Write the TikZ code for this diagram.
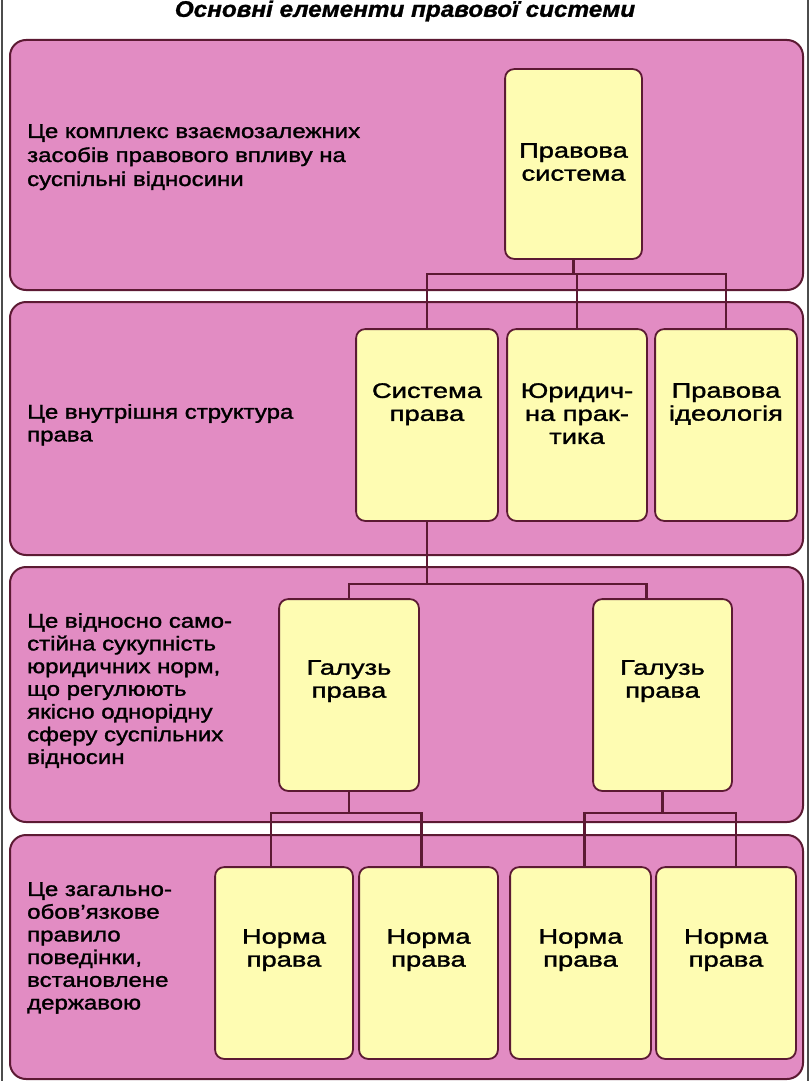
\documentclass[tikz,border=0pt]{standalone}
\usepackage{fontspec}
\setmainfont{Liberation Sans}
\newfontfamily\descfont[FakeStretch=1.2,FakeBold=1.5]{Liberation Sans}
\newfontfamily\boxfont[FakeStretch=1.3,FakeBold=1.5]{Liberation Sans}
\newfontfamily\titlefont[FakeStretch=1.08,FakeBold=1.2]{Liberation Sans Bold Italic}
\usetikzlibrary{calc}
\definecolor{bandpink}{HTML}{E28CC3}
\definecolor{boxyellow}{HTML}{FEFCB2}
\definecolor{edgecol}{HTML}{5C1A33}
\begin{document}
\begin{tikzpicture}[x=1pt,y=-1pt,
  band/.style={draw=edgecol, fill=bandpink, line width=2pt, rounded corners=16pt, inner sep=0pt, minimum width=793pt},
  box/.style={draw=edgecol, fill=boxyellow, line width=1.8pt, rounded corners=9pt, inner sep=0pt, minimum height=189pt},
  conn/.style={draw=edgecol, line width=2.2pt},
  boxtext/.style={anchor=north, inner sep=0pt, align=center, font=\boxfont\fontsize{21}{23}\selectfont},
  desc/.style={anchor=north west, inner sep=0pt, align=left, font=\descfont\fontsize{20}{22.7}\selectfont},
  frameline/.style={draw=black!70, line width=1.5pt}
]
\useasboundingbox (0,0) rectangle (810,1081);
\fill[white] (0,0) rectangle (810,1081);
\coordinate (fl1) at (2,0); \coordinate (fl2) at (2,1081);
\coordinate (fr1) at (808,0); \coordinate (fr2) at (808,1081);
\draw[frameline] (fl1) -- (fl2);
\draw[frameline] (fr1) -- (fr2);

% title
\node[font=\titlefont\fontsize{22.5}{24}\selectfont, inner sep=0pt] (title) at (405,11) {Основні елементи правової системи};

% bands
\node[band, minimum height=250pt] (b1) at (406.5,165) {};
\node[band, minimum height=253pt] (b2) at (406.5,428.5) {};
\node[band, minimum height=255pt] (b3) at (406.5,694.5) {};
\node[band, minimum height=244pt] (b4) at (406.5,957) {};

% descriptions
\node[desc, font=\descfont\fontsize{20}{24}\selectfont] (d1) at (27,124) {Це комплекс взаємозалежних\\засобів правового впливу на\\суспільні відносини};
\node[desc] (d2) at (27,404) {Це внутрішня структура\\права};
\node[desc] (d3) at (27,613) {Це відносно само-\\стійна сукупність\\юридичних норм,\\що регулюють\\якісно однорідну\\сферу суспільних\\відносин};
\node[desc] (d4) at (27,882) {Це загально-\\обов’язкове\\правило\\поведінки,\\встановлене\\державою};

% box geometry (nodes)
\node[box, minimum width=135pt, minimum height=188pt] (ps) at (573.5,164) {};
\node[box, minimum width=140pt, minimum height=190pt] (sp) at (427,425) {};
\node[box, minimum width=138pt, minimum height=190pt] (yp) at (577,425) {};
\node[box, minimum width=140pt, minimum height=190pt] (pi) at (726,425) {};
\node[box, minimum width=138pt, minimum height=190pt] (g1) at (349,695) {};
\node[box, minimum width=137pt, minimum height=190pt] (g2) at (662.5,695) {};
\node[box, minimum width=136pt, minimum height=190pt] (n1) at (284,963) {};
\node[box, minimum width=137pt, minimum height=190pt] (n2) at (428.5,963) {};
\node[box, minimum width=139pt, minimum height=190pt] (n3) at (580.5,963) {};
\node[box, minimum width=138pt, minimum height=190pt] (n4) at (726,963) {};

% connectors
\coordinate (j1) at ($(ps.south)+(0,15)$);
\draw[conn] (ps.south) -- (j1);
\draw[conn] (sp.north) |- (j1) -| (pi.north);
\draw[conn] (yp.north) -- (yp.north |- j1);

\coordinate (j2) at ($(sp.south)+(0,63)$);
\coordinate (g2in) at ($(g2.north)+(-16,0)$);
\draw[conn] (sp.south) -- (j2);
\draw[conn] (g1.north) |- (j2) -| (g2in);

\coordinate (j3) at ($(g1.south)+(0,22)$);
\coordinate (n1in) at ($(n1.north)+(-13,0)$);
\coordinate (n2in) at ($(n2.north)+(-7,0)$);
\draw[conn] (g1.south) -- (j3);
\draw[conn] (n1in) |- (j3) -| (n2in);

\coordinate (j4) at ($(g2.south)+(0,22)$);
\coordinate (n3in) at ($(n3.north)+(4,0)$);
\coordinate (n4in) at ($(n4.north)+(10,0)$);
\draw[conn] (g2.south) -- (j4);
\draw[conn] (n3in) |- (j4) -| (n4in);

% redraw boxes on top of connector ends
\foreach \b in {ps,sp,yp,pi,g1,g2,n1,n2,n3,n4}{
  \draw[draw=edgecol, fill=boxyellow, line width=1.8pt, rounded corners=9pt] (\b.south west) rectangle (\b.north east);
}

% box texts
\node[boxtext] (tps) at (ps.center |- 0,143) {Правова\\система};
\node[boxtext] (tsp) at (sp.center |- 0,383) {Система\\права};
\node[boxtext] (typ) at (yp.center |- 0,383) {Юридич-\\на прак-\\тика};
\node[boxtext] (tpi) at (pi.center |- 0,383) {Правова\\ідеологія};
\node[boxtext] (tg1) at (g1.center |- 0,660) {Галузь\\права};
\node[boxtext] (tg2) at (g2.center |- 0,660) {Галузь\\права};
\node[boxtext] (tn1) at (n1.center |- 0,929) {Норма\\права};
\node[boxtext] (tn2) at (n2.center |- 0,929) {Норма\\права};
\node[boxtext] (tn3) at (n3.center |- 0,929) {Норма\\права};
\node[boxtext] (tn4) at (n4.center |- 0,929) {Норма\\права};
\end{tikzpicture}
\end{document}
